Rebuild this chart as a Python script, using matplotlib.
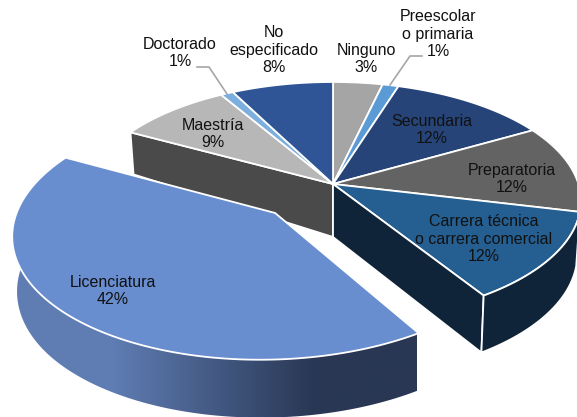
import numpy as np
import matplotlib
matplotlib.use('Agg')
import matplotlib.pyplot as plt
from matplotlib.patches import Polygon

plt.rcParams['font.family'] = ['Liberation Sans', 'DejaVu Sans']

# shares, the printed labels are rounded by the source
categories = ['Ninguno', 'Preescolar\no primaria', 'Secundaria', 'Preparatoria',
              'Carrera técnica\no carrera comercial', 'Licenciatura', 'Maestría',
              'Doctorado', 'No\nespecificado']
shares = [3.7, 1.2, 11.9, 11.9, 12.2, 41.9, 8.6, 0.95, 7.6]
pct_labels = ['3%', '1%', '12%', '12%', '12%', '42%', '9%', '1%', '8%']
top_colors = ['#a5a5a5', '#5b9bd5', '#264478', '#636363', '#255e91', '#698ed0',
              '#b7b7b7', '#7cafdd', '#2f5597']

# projection of the unit disc onto the picture
CX, CY = 333, 184
A, B, K = 245.4, 116.6, 0.143
LIC_OFFSET = (-0.245, 0.24)
LIC_APEX = (-0.228, 0.24)


def project(x, y):
    d = 1 - K * y
    return CX + A * x / d, CY + B * y / d


def drop(x, y):
    """same point on the underside of the pie"""
    px, py = project(x, y)
    h = np.interp(y, [-1.2, -0.476, 0, 0.845, 1.3], [35, 42, 53, 57, 58])
    return CX + (px - CX) * 0.985, py + h


def rim(start, end, off=(0, 0)):
    t = np.radians(np.linspace(start, end, 120))
    return np.sin(t) + off[0], -np.cos(t) + off[1]


edges = np.concatenate([[0], np.cumsum(shares)])
edges = edges / edges[-1] * 360

fig = plt.figure(figsize=(5.77, 4.17), dpi=100)
ax = fig.add_axes([0, 0, 1, 1])
ax.set_xlim(0, 577)
ax.set_ylim(417, 0)
ax.axis('off')

# Maestría cut face, seen because Licenciatura is pulled out
a = np.radians(edges[6])
mx, my = np.sin(a), -np.cos(a)
p = [project(mx, my), project(0, 0), drop(0, 0), drop(mx, my)]
ax.add_patch(Polygon(p, fc='#4a4a4a', ec='white', lw=1.3, zorder=2))

# top of the slices that stay in place
for i in range(9):
    if i == 5:
        continue
    x, y = rim(edges[i], edges[i + 1])
    px, py = project(x, y)
    p = np.column_stack([np.r_[CX, px], np.r_[CY, py]])
    ax.add_patch(Polygon(p, fc=top_colors[i], ec='white', lw=1.3, zorder=3))

# Carrera side faces
a = np.radians(edges[5])
cx, cy = np.sin(a), -np.cos(a)
p = [project(0, 0), project(cx, cy), drop(cx, cy), drop(0, 0)]
ax.add_patch(Polygon(p, fc='#0f2438', ec='white', lw=1.3, zorder=4))
x, y = rim(edges[4], edges[5])
tx, ty = project(x, y)
bx, by = drop(x, y)
p = np.column_stack([np.r_[tx, bx[::-1]], np.r_[ty, by[::-1]]])
ax.add_patch(Polygon(p, fc='#0f2438', ec='white', lw=1.3, zorder=4))

# Licenciatura
x, y = rim(edges[5], edges[6], LIC_OFFSET)
tx, ty = project(x, y)
bx, by = drop(x, y)
p = np.column_stack([np.r_[tx, bx[::-1]], np.r_[ty, by[::-1]]])
side = Polygon(p, fc='none', ec='none', zorder=5)
ax.add_patch(side)
grad = np.array([[matplotlib.colors.to_rgb('#5f7db3')],
                 [matplotlib.colors.to_rgb('#293754')]]).transpose(1, 0, 2)
im = ax.imshow(grad, extent=(12, 417, 417, 230), aspect='auto', interpolation='bilinear',
               zorder=5)
im.set_clip_path(side)
ax.set_xlim(0, 577)
ax.set_ylim(417, 0)
ax0, ay0 = project(*LIC_APEX)
p = np.column_stack([np.r_[ax0, tx], np.r_[ay0, ty]])
ax.add_patch(Polygon(p, fc=top_colors[5], ec='white', lw=1.3, zorder=6))

# labels
label_pos = [(366, 59), (438, 34), (432, 130), (512, 179), (484, 239), (113, 291),
             (213, 134), (180, 53), (274, 50)]
for name, pct, pos in zip(categories, pct_labels, label_pos):
    ax.text(pos[0], pos[1], name + '\n' + pct, ha='center', va='center', fontsize=11.5,
            linespacing=1.22, color='#111111', zorder=8)

# leader lines for the two thin slices
ax.plot([197, 209, 227], [67, 67, 94], color='#a6a6a6', lw=1.2, zorder=7)
ax.plot([422, 410, 390], [56, 56, 85], color='#a6a6a6', lw=1.2, zorder=7)

fig.savefig('out.png', dpi=100)
